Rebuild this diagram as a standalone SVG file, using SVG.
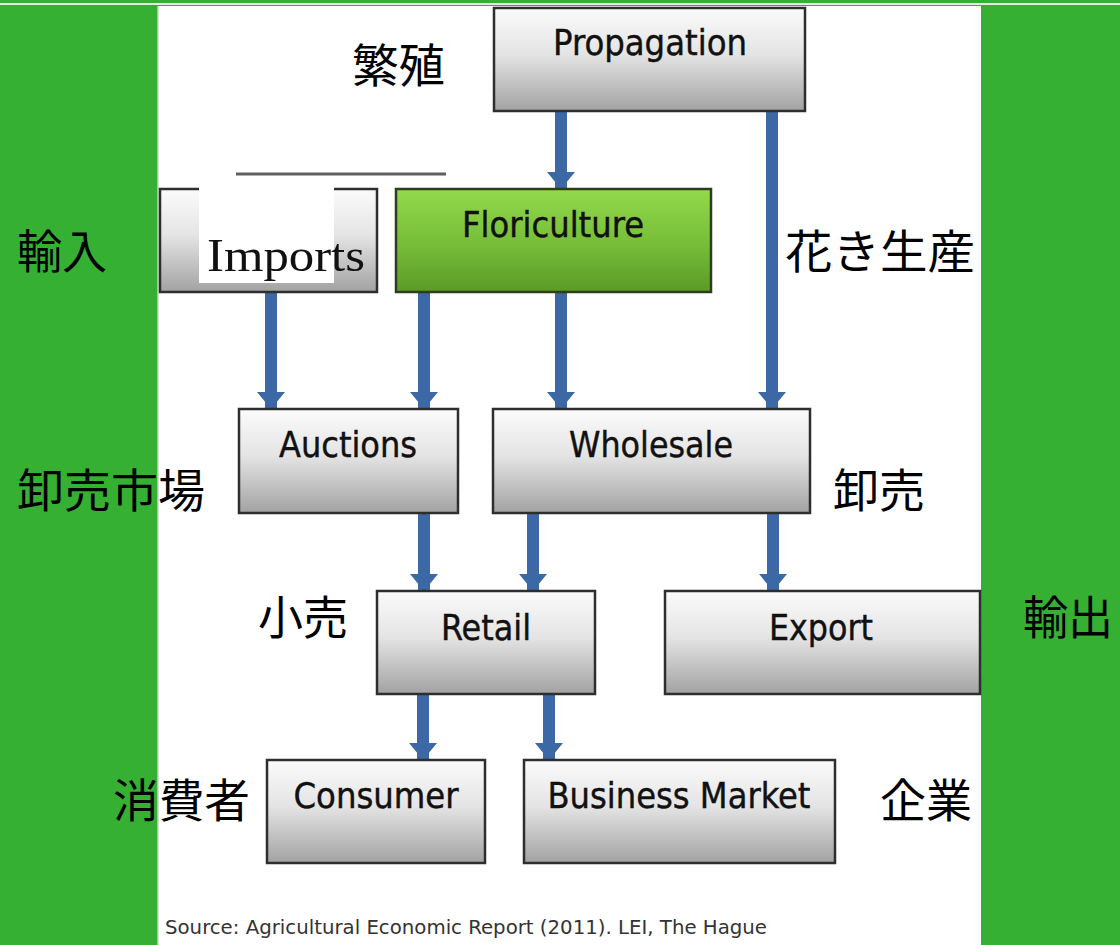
<svg xmlns="http://www.w3.org/2000/svg" width="1120" height="945" viewBox="0 0 1120 945">
<style>
.box{fill:url(#gray);stroke:#2e2e2e;stroke-width:2.5}
.lbl{font-family:"DejaVu Sans","Liberation Sans",sans-serif;font-stretch:condensed;font-size:36px;fill:#111;text-anchor:middle;stroke:#111;stroke-width:0.4}
.jp{font-family:"Noto Sans CJK JP","Noto Sans CJK SC",sans-serif;font-size:46px;fill:#000}
.arr{stroke:#3d68a6;stroke-width:12;fill:none;marker-end:url(#ah)}
</style>
<defs>
<linearGradient id="gray" x1="0" y1="0" x2="0" y2="1">
<stop offset="0" stop-color="#fbfbfb"/>
<stop offset="0.45" stop-color="#e4e4e4"/>
<stop offset="1" stop-color="#a2a2a2"/>
</linearGradient>
<linearGradient id="green" x1="0" y1="0" x2="0" y2="1">
<stop offset="0" stop-color="#92d94c"/>
<stop offset="0.5" stop-color="#79c03a"/>
<stop offset="1" stop-color="#5b9a26"/>
</linearGradient>
<marker id="ah" markerUnits="userSpaceOnUse" markerWidth="18" markerHeight="28" refX="16" refY="14" orient="auto" viewBox="0 0 18 28">
<path d="M0,0 L17,14 L0,28 Z" fill="#3d68a6"/>
</marker>
</defs>
<rect x="0" y="0" width="1120" height="945" fill="#36b032"/>
<rect x="157" y="6" width="824" height="939" fill="#ffffff"/>
<rect x="0" y="3" width="1120" height="2" fill="#e8e8e8"/>
<rect x="157" y="6" width="1.5" height="939" fill="#8a8a8a" opacity="0.6"/>

<g id="connectors">
<line class="arr" x1="561" y1="112" x2="561" y2="188"/>
<line class="arr" x1="772" y1="112" x2="772" y2="408"/>
<line class="arr" x1="271" y1="293" x2="271" y2="408"/>
<line class="arr" x1="424" y1="293" x2="424" y2="408"/>
<line class="arr" x1="561" y1="293" x2="561" y2="408"/>
<line class="arr" x1="424" y1="514" x2="424" y2="590"/>
<line class="arr" x1="533" y1="514" x2="533" y2="590"/>
<line class="arr" x1="773" y1="514" x2="773" y2="590"/>
<line class="arr" x1="423" y1="695" x2="423" y2="759"/>
<line class="arr" x1="549" y1="695" x2="549" y2="759"/>
</g>

<g id="propagation">
<rect class="box" x="494" y="8" width="311" height="103"/>
<text class="lbl" x="650" y="55" textLength="194" lengthAdjust="spacingAndGlyphs">Propagation</text>
</g>
<g id="label-hanshoku"><text class="jp" x="352" y="82" textLength="93" lengthAdjust="spacingAndGlyphs">繁殖</text></g>

<g id="separator"><line x1="236" y1="174" x2="446" y2="174" stroke="#606060" stroke-width="3"/></g>

<g id="imports">
<rect class="box" x="160" y="189" width="217" height="103"/>
<rect x="199" y="180" width="135" height="103" fill="#ffffff"/>
<text x="207" y="271" font-family="Liberation Serif,serif" font-size="46" fill="#111" textLength="158" lengthAdjust="spacingAndGlyphs">Imports</text>
</g>
<g id="label-yunyu"><text class="jp" x="17" y="268" textLength="90" lengthAdjust="spacingAndGlyphs">輸入</text></g>

<g id="floriculture">
<rect x="396" y="189" width="315" height="103" fill="url(#green)" stroke="#2e3d20" stroke-width="2.5"/>
<text class="lbl" x="553" y="237" textLength="182" lengthAdjust="spacingAndGlyphs">Floriculture</text>
</g>
<g id="label-kaki"><text class="jp" x="785" y="268" textLength="190" lengthAdjust="spacingAndGlyphs">花き生産</text></g>

<g id="auctions">
<rect class="box" x="239" y="409" width="219" height="104"/>
<text class="lbl" x="348" y="457" textLength="138" lengthAdjust="spacingAndGlyphs">Auctions</text>
</g>
<g id="label-oroshiichiba"><text class="jp" x="17" y="507" textLength="188" lengthAdjust="spacingAndGlyphs">卸売市場</text></g>

<g id="wholesale">
<rect class="box" x="493" y="409" width="317" height="104"/>
<text class="lbl" x="651" y="457" textLength="164" lengthAdjust="spacingAndGlyphs">Wholesale</text>
</g>
<g id="label-oroshiuri"><text class="jp" x="833" y="507" textLength="92" lengthAdjust="spacingAndGlyphs">卸売</text></g>

<g id="retail">
<rect class="box" x="377" y="591" width="218" height="103"/>
<text class="lbl" x="486" y="640" textLength="90" lengthAdjust="spacingAndGlyphs">Retail</text>
</g>
<g id="label-kouri"><text class="jp" x="258" y="634" textLength="90" lengthAdjust="spacingAndGlyphs">小売</text></g>

<g id="export">
<rect class="box" x="665" y="591" width="315" height="103"/>
<text class="lbl" x="821" y="640" textLength="104" lengthAdjust="spacingAndGlyphs">Export</text>
</g>
<g id="label-yushutsu"><text class="jp" x="1023" y="634" textLength="90" lengthAdjust="spacingAndGlyphs">輸出</text></g>

<g id="consumer">
<rect class="box" x="267" y="760" width="218" height="103"/>
<text class="lbl" x="376" y="808" textLength="165" lengthAdjust="spacingAndGlyphs">Consumer</text>
</g>
<g id="label-shohisha"><text class="jp" x="113" y="817" textLength="137" lengthAdjust="spacingAndGlyphs">消費者</text></g>

<g id="business-market">
<rect class="box" x="524" y="760" width="311" height="103"/>
<text class="lbl" x="679" y="808" textLength="263" lengthAdjust="spacingAndGlyphs">Business Market</text>
</g>
<g id="label-kigyo"><text class="jp" x="880" y="817" textLength="92" lengthAdjust="spacingAndGlyphs">企業</text></g>

<g id="source">
<text x="165" y="934" font-family="DejaVu Sans,Liberation Sans,sans-serif" font-stretch="condensed" font-size="19" fill="#333" textLength="602" lengthAdjust="spacingAndGlyphs">Source: Agricultural Economic Report (2011). LEI, The Hague</text>
</g>
</svg>
